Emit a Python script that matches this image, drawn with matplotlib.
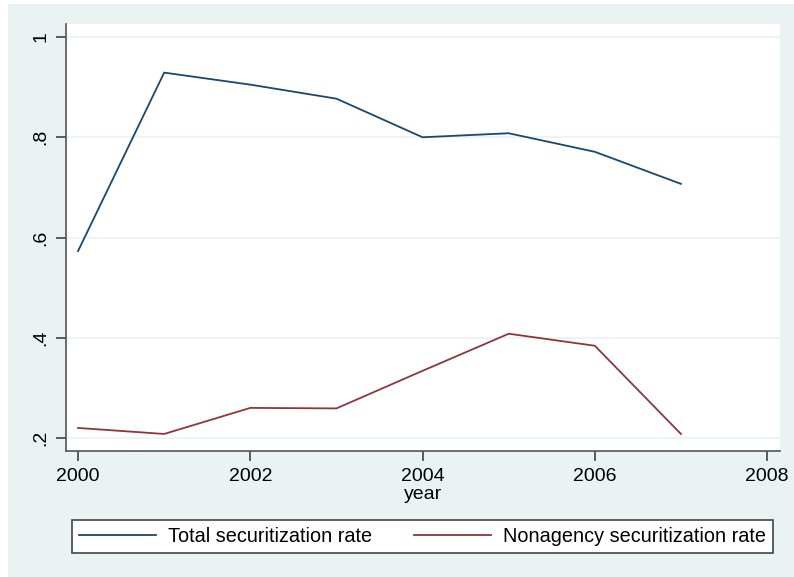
import matplotlib
matplotlib.use('Agg')
import matplotlib.pyplot as plt
from matplotlib.patches import Rectangle

plt.rcParams['font.family'] = ['Liberation Sans', 'DejaVu Sans']

# Data
years = [2000, 2001, 2002, 2003, 2004, 2005, 2006, 2007]
total_rate = [0.573, 0.929, 0.905, 0.877, 0.800, 0.808, 0.771, 0.707]
nonagency_rate = [0.220, 0.208, 0.260, 0.259, 0.334, 0.408, 0.384, 0.208]

x_ticks = [2000, 2002, 2004, 2006, 2008]
y_ticks = [0.2, 0.4, 0.6, 0.8, 1.0]
y_tick_labels = ['.2', '.4', '.6', '.8', '1']

W, H = 794, 577
fig = plt.figure(figsize=(W / 100, H / 100), dpi=100)
fig.patch.set_facecolor('white')

# Stata-style graph region (behind the plot)
bg = Rectangle((8 / W, 0), 1 - 8 / W, 1 - 4 / H, transform=fig.transFigure,
               facecolor='#eaf2f3', edgecolor='none', zorder=-10)
fig.patches.append(bg)

ax = fig.add_axes([66 / W, (H - 451) / H, (780 - 66) / W, (451 - 24) / H])
ax.set_facecolor('white')

ax.plot(years, total_rate, color='#1a476f', lw=1.3, label='Total securitization rate')
ax.plot(years, nonagency_rate, color='#90353b', lw=1.3, label='Nonagency securitization rate')

ax.set_xlim(1999.86, 2008.15)
ax.set_ylim(0.174, 1.026)
ax.set_xticks(x_ticks)
ax.set_yticks(y_ticks)
ax.set_yticklabels(y_tick_labels, rotation=90, va='center')
ax.grid(axis='y', color='#eaf2f3', lw=1.2)
ax.set_axisbelow(True)

for s in ['top', 'right']:
    ax.spines[s].set_visible(False)
for s in ['left', 'bottom']:
    ax.spines[s].set_color('#555555')
    ax.spines[s].set_linewidth(1.2)

ax.tick_params(axis='both', labelsize=14, color='#333333', length=7, width=1.1, pad=5)
ax.set_xlabel('year', fontsize=14, labelpad=1)

leg = fig.legend(loc='lower left', ncol=2, mode='expand',
                 bbox_to_anchor=(72 / W, (H - 553) / H, (773 - 72) / W, (553 - 516) / H),
                 fontsize=14.3, frameon=True, fancybox=False, handlelength=3.9,
                 borderaxespad=0, borderpad=0.35, columnspacing=0.7, handletextpad=0.6)
leg.get_frame().set_edgecolor('#444444')
leg.get_frame().set_facecolor('white')
leg.get_frame().set_alpha(1)
leg.get_frame().set_linewidth(1.2)

fig.savefig('out.png', dpi=100, facecolor=fig.get_facecolor())
